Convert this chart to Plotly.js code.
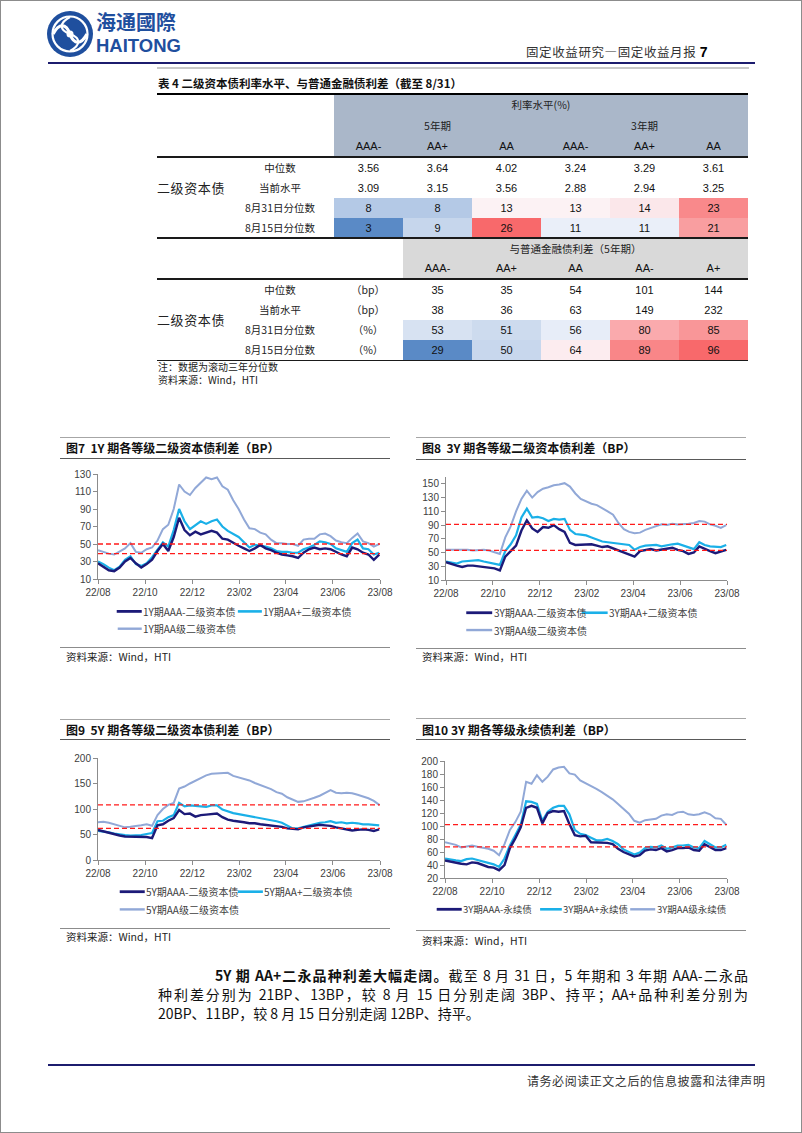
<!DOCTYPE html>
<html lang="zh-CN">
<head>
<meta charset="utf-8">
<title>固定收益月报</title>
<script src="https://cdn.plot.ly/plotly-3.0.1.min.js"></script>
<style>
*{box-sizing:border-box;}
html,body{margin:0;padding:0;background:#fff;}
#page{position:relative;width:802px;height:1133px;overflow:hidden;background:#fff;font-family:"Noto Sans CJK SC","Noto Sans",sans-serif;color:#111;}
.a{position:absolute;white-space:nowrap;}
.c{position:absolute;display:flex;align-items:center;justify-content:center;white-space:nowrap;}
.chart{position:absolute;}
</style>
</head>
<body>
<div id="page">
  <div class="a" style="left:0;top:0;width:802px;height:1133px;border:1px solid #8c8c8c;"></div>
  <svg class="a" style="left:46px;top:10px" width="48" height="48" viewBox="0 0 48 48">
    <circle cx="24" cy="24" r="23" fill="#1f4f9e"/>
    <circle cx="24" cy="24" r="17.5" fill="none" stroke="#fff" stroke-width="2.2"/>
    <path d="M7 24 C13 13, 20 13, 24 24 S35 35, 41 24" fill="none" stroke="#fff" stroke-width="3.2"/>
    <path d="M24 7 C13 13, 13 20, 24 24 S35 35, 24 41" fill="none" stroke="#fff" stroke-width="2.2"/>
    <circle cx="24" cy="24" r="3.5" fill="#fff"/>
  </svg>
  <div class="a" style="left:96px;top:9px;font-size:20px;font-weight:700;color:#1f4f9e;font-family:'Noto Sans CJK TC','Noto Sans CJK SC';line-height:26px;">海通國際</div>
  <div class="a" style="left:96px;top:35px;font-size:18.5px;font-weight:700;color:#1f4f9e;font-family:Arial,'Liberation Sans',sans-serif;line-height:21px;">HAITONG</div>
  <div class="a" style="left:526px;top:43px;font-size:12.5px;color:#333;line-height:18px;letter-spacing:0.6px;">固定收益研究—固定收益月报 <b style="font-family:Arial,'Liberation Sans',sans-serif;font-size:14px;color:#000;">7</b></div>
  <div class="a" style="left:48px;top:62px;width:707px;height:2px;background:#1c1c6e;"></div>
  <div class="a" style="left:157px;top:67px;width:592px;height:2px;background:#c8c8c8;"></div>
  <div class="a" style="left:158px;top:74px;font-size:11.5px;font-weight:700;line-height:18px;color:#111;">表 4 二级资本债利率水平、与普通金融债利差（截至 8/31）</div>

  <div class="a" style="left:215px;top:965px;width:533px;font-size:14px;line-height:20px;text-align:justify;text-align-last:justify;color:#111;"><b>5Y 期 AA+二永品种利差大幅走阔。</b>截至 8 月 31 日，5 年期和 3 年期 AAA-二永品</div>
  <div class="a" style="left:158px;top:984px;width:590px;font-size:14px;line-height:20px;text-align:justify;text-align-last:justify;color:#111;">种利差分别为 21BP、13BP，较 8 月 15 日分别走阔 3BP、持平；AA+品种利差分别为</div>
  <div class="a" style="left:158px;top:1003px;font-size:14px;line-height:20px;color:#111;">20BP、11BP，较 8 月 15 日分别走阔 12BP、持平。</div>

  <div class="a" style="left:48px;top:1064px;width:707px;height:2px;background:#1c1c6e;"></div>
  <div class="a" style="left:527px;top:1072px;width:228px;text-align:right;font-size:12px;line-height:18px;color:#333;letter-spacing:0.55px;">请务必阅读正文之后的信息披露和法律声明</div>
</div>

<script>
// ================= DATA =================
// Table 4
const rateHeader = '利率水平(%)';
const rateTerms = ['5年期', '3年期'];
const rateRatings = ['AAA-', 'AA+', 'AA', 'AAA-', 'AA+', 'AA'];
const rowLabels = ['中位数', '当前水平', '8月31日分位数', '8月15日分位数'];
const rateMedian = [3.56, 3.64, 4.02, 3.24, 3.29, 3.61];
const rateCurrent = [3.09, 3.15, 3.56, 2.88, 2.94, 3.25];
const ratePct0831 = [8, 8, 13, 13, 14, 23];
const ratePct0815 = [3, 9, 26, 11, 11, 21];
const spreadHeader = '与普通金融债利差（5年期）';
const spreadRatings = ['AAA-', 'AA+', 'AA', 'AA-', 'A+'];
const spreadUnits = ['（bp）', '（bp）', '（%）', '（%）'];
const spreadMedian = [35, 35, 54, 101, 144];
const spreadCurrent = [38, 36, 63, 149, 232];
const spreadPct0831 = [53, 51, 56, 80, 85];
const spreadPct0815 = [29, 50, 64, 89, 96];
const bondLabel = '二级资本债';
const tableNote = '注：数据为滚动三年分位数';
const sourceText = '资料来源：Wind，HTI';

// Charts: weekly observations
const weekDates = [
 '2022-08-31','2022-09-07','2022-09-14','2022-09-21','2022-09-28','2022-10-05','2022-10-12','2022-10-19','2022-10-26',
 '2022-11-02','2022-11-09','2022-11-16','2022-11-23','2022-11-30','2022-12-07','2022-12-14','2022-12-21','2022-12-28',
 '2023-01-04','2023-01-11','2023-01-18','2023-01-25','2023-02-01','2023-02-08','2023-02-15','2023-02-22','2023-03-01',
 '2023-03-08','2023-03-15','2023-03-22','2023-03-29','2023-04-05','2023-04-12','2023-04-19','2023-04-26','2023-05-03',
 '2023-05-10','2023-05-17','2023-05-24','2023-05-31','2023-06-07','2023-06-14','2023-06-21','2023-06-28','2023-07-05',
 '2023-07-12','2023-07-19','2023-07-26','2023-08-02','2023-08-09','2023-08-16','2023-08-23','2023-08-30'];
const xRange = ['2022-08-31', '2023-08-31'];
const xTickDates = ['2022-08-31','2022-10-31','2022-12-31','2023-03-02','2023-05-01','2023-07-01','2023-08-31'];
const xTickLabels = ['22/08','22/10','22/12','23/02','23/04','23/06','23/08'];

// Fig 7: 1Y
const fig7Title = '图7&nbsp;&nbsp;1Y 期各等级二级资本债利差（BP）';
const fig7Names = ['1Y期AAA-二级资本债', '1Y期AA+二级资本债', '1Y期AA级二级资本债'];
const fig7AAAm = [28,24,20,19,23,30,34,28,23,27,32,42,50,42,58,80,66,60,64,61,63,65,63,56,55,51,48,45,42,45,49,45,43,40,38,37,36,34,40,44,46,44,45,44,41,38,36,46,44,40,38,32,38];
const fig7AAp  = [30,27,23,20,24,32,36,27,25,28,35,43,52,47,66,90,76,67,72,76,73,76,78,70,65,61,58,52,46,49,48,47,45,42,41,41,40,40,44,46,49,53,52,50,45,43,41,51,55,45,44,38,40];
const fig7AA   = [43,41,39,38,42,45,51,41,40,44,46,54,67,72,90,118,110,106,114,120,126,124,126,116,112,100,90,78,68,67,63,61,55,51,51,50,50,48,55,56,56,61,62,59,54,52,51,57,62,53,51,47,50];
const fig7Ref  = [50, 39];

// Fig 8: 3Y
const fig8Title = '图8&nbsp;&nbsp;3Y 期各等级二级资本债利差（BP）';
const fig8Names = ['3Y期AAA-二级资本债', '3Y期AA+二级资本债', '3Y期AA级二级资本债'];
const fig8AAAm = [36,33,31,29,31,31,30,29,28,27,24,44,52,60,82,97,85,80,87,86,90,84,80,64,61,61,62,62,60,58,59,56,53,50,47,44,52,54,55,53,54,56,57,54,52,48,50,59,55,52,49,51,54];
const fig8AAp  = [37,36,34,37,38,38,39,37,35,34,32,52,62,75,101,114,101,102,100,96,99,98,99,83,77,76,75,72,69,66,65,64,62,62,61,54,58,60,61,61,59,61,62,63,60,57,55,65,61,59,58,58,61];
const fig8AA   = [54,54,54,55,54,53,54,54,53,50,48,72,88,110,128,140,130,138,143,145,148,149,151,146,136,128,124,121,119,115,110,105,93,84,80,78,79,83,86,88,91,90,92,91,91,92,93,96,95,91,89,86,90];
const fig8Ref  = [91, 53];

// Fig 9: 5Y
const fig9Title = '图9&nbsp;&nbsp;5Y 期各等级二级资本债利差（BP）';
const fig9Names = ['5Y期AAA-二级资本债', '5Y期AA+二级资本债', '5Y期AA级二级资本债'];
const fig9AAAm = [59,56,53,50,48,46,46,46,46,45,43,68,70,77,82,98,90,91,85,88,89,90,91,84,79,77,76,74,72,72,70,69,68,66,65,62,61,60,64,66,68,69,68,67,64,62,60,58,59,60,59,57,60];
const fig9AAp  = [57,56,54,52,50,49,48,48,49,51,53,76,77,84,88,112,105,107,106,105,104,107,107,99,95,92,90,88,87,85,83,80,78,76,73,68,62,62,65,68,71,73,74,76,73,74,72,73,72,70,70,69,68];
const fig9AA   = [74,75,73,70,66,64,65,66,68,70,67,88,100,108,112,140,144,150,155,160,166,169,170,170,171,165,162,159,156,151,147,143,139,133,130,123,118,114,115,118,122,126,131,137,132,131,132,131,128,125,121,116,108];
const fig9Ref  = [108, 62];

// Fig 10: 3Y perpetual
const fig10Title = '图10 3Y 期各等级永续债利差（BP）';
const fig10Names = ['3Y期AAA-永续债', '3Y期AA+永续债', '3Y期AA级永续债'];
const fig10AAAm = [47,45,43,42,41,44,43,40,37,36,32,40,66,81,98,128,131,128,104,120,123,122,123,103,86,84,85,75,75,75,74,72,65,60,57,53,55,62,64,63,66,61,63,66,66,67,63,62,72,68,63,63,66];
const fig10AAp  = [50,48,47,46,49,50,48,46,44,41,37,50,70,86,102,138,137,134,108,122,128,131,131,118,94,88,86,82,78,78,80,77,72,64,60,56,59,66,68,67,70,65,67,70,70,71,67,66,77,72,67,67,71];
const fig10AA   = [75,73,71,67,69,70,68,67,65,62,55,72,94,106,122,168,165,178,168,176,187,190,191,181,179,170,166,162,157,152,147,141,134,127,119,108,105,109,110,111,116,118,117,121,122,118,117,118,121,118,112,111,102];
const fig10Ref  = [102, 68];

// ================= STYLE / LAYOUT =================
const NAVY = '#1c1a78', CYAN = '#1ab0e8', LIGHT = '#91a8d7', REF = '#ff1a1a';
const LATIN = 'Arial, "Liberation Sans", sans-serif';
const CJK = '"Noto Sans CJK SC", sans-serif';
const page = document.getElementById('page');

function add(html, style, cls) {
  const d = document.createElement('div');
  d.className = cls || 'a'; d.style.cssText = style; d.innerHTML = html;
  page.appendChild(d); return d;
}
function rect(x, y, w, h, c) { add('', `left:${x}px;top:${y}px;width:${w}px;height:${h}px;background:${c};`); }
function cell(x, y, w, h, txt, st) { add(txt, `left:${x}px;top:${y}px;width:${w}px;height:${h}px;${st || ''}`, 'c'); }
function median(arr) { const s = [...arr].sort((a, b) => a - b), n = s.length; return n % 2 ? s[(n - 1) / 2] : (s[n / 2 - 1] + s[n / 2]) / 2; }
// Excel 3-colour scale (blue - white - red)
function scaleColor(v, mn, md, mx) {
  const lo = [90, 138, 198], mid = [252, 252, 255], hi = [248, 105, 107];
  let a, b, t;
  if (v <= md) { a = lo; b = mid; t = (v - mn) / (md - mn); } else { a = mid; b = hi; t = (v - md) / (mx - md); }
  return 'rgb(' + a.map((c, i) => Math.round(c + (b[i] - c) * t)).join(',') + ')';
}

// ---------- Table ----------
(function buildTable() {
  const TL = 157, TW = 591, C0 = 334, CW = 69;
  const numF = `font-family:${LATIN};font-size:11px;color:#111;`;
  const cjkF = 'font-size:10.5px;color:#222;';
  rect(TL, 93, TW, 2, '#000');
  rect(C0, 95, CW * 6, 61, '#aab7c9');
  cell(C0, 95, CW * 6, 19, rateHeader, cjkF);
  rateTerms.forEach((t, i) => cell(C0 + i * CW * 3, 116, CW * 3, 18, t, cjkF));
  rateRatings.forEach((t, i) => cell(C0 + i * CW, 137, CW, 18, t, numF));
  rect(TL, 156, TW, 1.5, '#1a1a1a');
  const rp = ratePct0831.concat(ratePct0815);
  const rMin = Math.min(...rp), rMax = Math.max(...rp), rMid = median(rp);
  const rateRows = [rateMedian.map(v => v.toFixed(2)), rateCurrent.map(v => v.toFixed(2)), ratePct0831, ratePct0815];
  rateRows.forEach((row, r) => {
    const y = 157.5 + r * 20;
    cell(235, y, 90, 20, rowLabels[r], cjkF);
    row.forEach((v, i) => {
      const bg = r >= 2 ? 'background:' + scaleColor(+v, rMin, rMid, rMax) + ';' : '';
      cell(C0 + i * CW, y, CW, 20, String(v), numF + bg);
    });
  });
  cell(TL, 177.5, 68, 20, bondLabel, 'font-size:13px;color:#222;letter-spacing:0.6px;');
  rect(TL, 237, TW, 1.5, '#1a1a1a');

  const S0 = C0 + CW;
  rect(S0, 238.5, CW * 5, 39.5, '#d9d9d9');
  cell(S0, 238.5, CW * 5, 19, spreadHeader, cjkF);
  spreadRatings.forEach((t, i) => cell(S0 + i * CW, 258, CW, 20, t, numF));
  rect(TL, 278, TW, 1.5, '#1a1a1a');
  const sp = spreadPct0831.concat(spreadPct0815);
  const sMin = Math.min(...sp), sMax = Math.max(...sp), sMid = median(sp);
  const spreadRows = [spreadMedian, spreadCurrent, spreadPct0831, spreadPct0815];
  spreadRows.forEach((row, r) => {
    const y = 279.5 + r * 20;
    cell(235, y, 90, 20, rowLabels[r], cjkF);
    cell(335, y, 66, 20, spreadUnits[r], cjkF);
    row.forEach((v, i) => {
      const bg = r >= 2 ? 'background:' + scaleColor(v, sMin, sMid, sMax) + ';' : '';
      cell(S0 + i * CW, y, CW, 20, String(v), numF + bg);
    });
  });
  cell(TL, 309.5, 68, 20, bondLabel, 'font-size:13px;color:#222;letter-spacing:0.6px;');
  rect(TL, 359.5, TW, 1.5, '#1a1a1a');
  add(tableNote, 'left:158px;top:360px;font-size:10px;line-height:14px;color:#222;');
  add(sourceText, 'left:158px;top:373px;font-size:10px;line-height:14px;color:#222;');
})();

// ---------- Charts ----------
const charts = [
  { title: fig7Title, names: fig7Names, series: [fig7AAAm, fig7AAp, fig7AA], refs: fig7Ref,
    frame: { x: 60, w: 330, top: 437, titleY: 448, under: 458, bottom: 647, srcY: 657 },
    box: { left: 60, top: 460, w: 350, h: 185 }, plot: { x0: 98.3, x1: 380, y0: 474.3, y1: 579.3 },
    yRange: [10, 130], yTick0: 10, yDtick: 20, legFont: 10,
    legend: [[117, 142, 611.7], [238, 262, 611.7], [118, 142, 629]] },
  { title: fig8Title, names: fig8Names, series: [fig8AAAm, fig8AAp, fig8AA], refs: fig8Ref,
    frame: { x: 416, w: 330, top: 437, titleY: 448, under: 459, bottom: 648, srcY: 657 },
    box: { left: 416, top: 460, w: 340, h: 186 }, plot: { x0: 445.7, x1: 727.3, y0: 477.1, y1: 580 },
    yRange: [10, 160], yTick0: 10, yDtick: 20, legFont: 10,
    legend: [[466, 492, 612.7], [581.7, 607.7, 612.7], [466, 492, 630]] },
  { title: fig9Title, names: fig9Names, series: [fig9AAAm, fig9AAp, fig9AA], refs: fig9Ref,
    frame: { x: 60, w: 330, top: 719, titleY: 730, under: 739, bottom: 928, srcY: 937 },
    box: { left: 60, top: 740, w: 350, h: 187 }, plot: { x0: 98.3, x1: 380, y0: 758.3, y1: 860.3 },
    yRange: [0, 200], yTick0: 0, yDtick: 50, legFont: 10,
    legend: [[120, 145, 892], [238, 263, 892], [120, 145, 909.7]] },
  { title: fig10Title, names: fig10Names, series: [fig10AAAm, fig10AAp, fig10AA], refs: fig10Ref,
    frame: { x: 416, w: 330, top: 718, titleY: 730, under: 739, bottom: 930, srcY: 941 },
    box: { left: 416, top: 740, w: 340, h: 189 }, plot: { x0: 445, x1: 726.7, y0: 760.7, y1: 877.7 },
    yRange: [20, 200], yTick0: 20, yDtick: 20, legFont: 9.5,
    legend: [[436.7, 461.7, 909], [540, 561.7, 909], [630, 655, 909]] }
];
const lineColors = [NAVY, CYAN, LIGHT];
const lineWidths = [2.4, 2.2, 2];

charts.forEach((cf) => {
  const f = cf.frame;
  rect(f.x, f.top, f.w, 1, '#a6a6a6');
  add(cf.title, `left:${f.x + 6}px;top:${f.titleY - 9}px;font-size:12px;font-weight:700;line-height:18px;color:#111;`);
  rect(f.x, f.under, f.w, 1, '#595959');
  rect(f.x, f.bottom, f.w, 1, '#8c8c8c');
  add(sourceText, `left:${f.x + 6}px;top:${f.srcY - 7}px;font-size:10.5px;line-height:14px;color:#222;`);

  const b = cf.box, p = cf.plot;
  const div = document.createElement('div');
  div.className = 'chart';
  div.style.cssText = `left:${b.left}px;top:${b.top}px;width:${b.w}px;height:${b.h}px;`;
  page.appendChild(div);
  const pw = p.x1 - p.x0, ph = p.y1 - p.y0;
  const px = v => (v - p.x0) / pw, py = v => (p.y1 - v) / ph;

  // draw light first, navy on top
  const order = [2, 1, 0];
  const traces = order.map(i => ({
    type: 'scatter', mode: 'lines', x: weekDates, y: cf.series[i], name: cf.names[i],
    line: { color: lineColors[i], width: lineWidths[i] }, hoverinfo: 'skip', showlegend: false
  }));
  const shapes = cf.refs.map(v => ({
    type: 'line', xref: 'paper', x0: 0, x1: 1, yref: 'y', y0: v, y1: v, layer: 'above',
    line: { color: REF, width: 1.3, dash: '5px,3px' }
  }));
  const annotations = [];
  cf.legend.forEach((lg, i) => {
    shapes.push({ type: 'line', xref: 'paper', yref: 'paper', x0: px(lg[0]), x1: px(lg[1]), y0: py(lg[2]), y1: py(lg[2]),
      line: { color: lineColors[i], width: lineWidths[i] + 0.4 } });
    annotations.push({ xref: 'paper', yref: 'paper', x: px(lg[1] + 0.5), y: py(lg[2]), xanchor: 'left', yanchor: 'middle',
      text: cf.names[i], showarrow: false, borderpad: 0, font: { family: CJK, size: cf.legFont, color: '#404040' } });
  });
  const axisCommon = { showline: true, linecolor: '#8c8c8c', linewidth: 1, ticks: 'outside', ticklen: 4, tickcolor: '#8c8c8c',
    showgrid: false, zeroline: false, fixedrange: true, ticklabeloverflow: 'allow',
    tickfont: { family: LATIN, size: 10, color: '#404040' } };
  const layout = {
    width: b.w, height: b.h,
    margin: { l: p.x0 - b.left, r: b.left + b.w - p.x1, t: p.y0 - b.top, b: b.top + b.h - p.y1, pad: 0, autoexpand: false },
    paper_bgcolor: 'rgba(0,0,0,0)', plot_bgcolor: 'rgba(0,0,0,0)', showlegend: false,
    xaxis: Object.assign({}, axisCommon, { type: 'date', range: xRange, tickmode: 'array', tickvals: xTickDates, ticktext: xTickLabels, tickangle: 0 }),
    yaxis: Object.assign({}, axisCommon, { range: cf.yRange, tickmode: 'linear', tick0: cf.yTick0, dtick: cf.yDtick }),
    shapes, annotations
  };
  Plotly.newPlot(div, traces, layout, { staticPlot: true, displayModeBar: false });
});
</script>
</body>
</html>
